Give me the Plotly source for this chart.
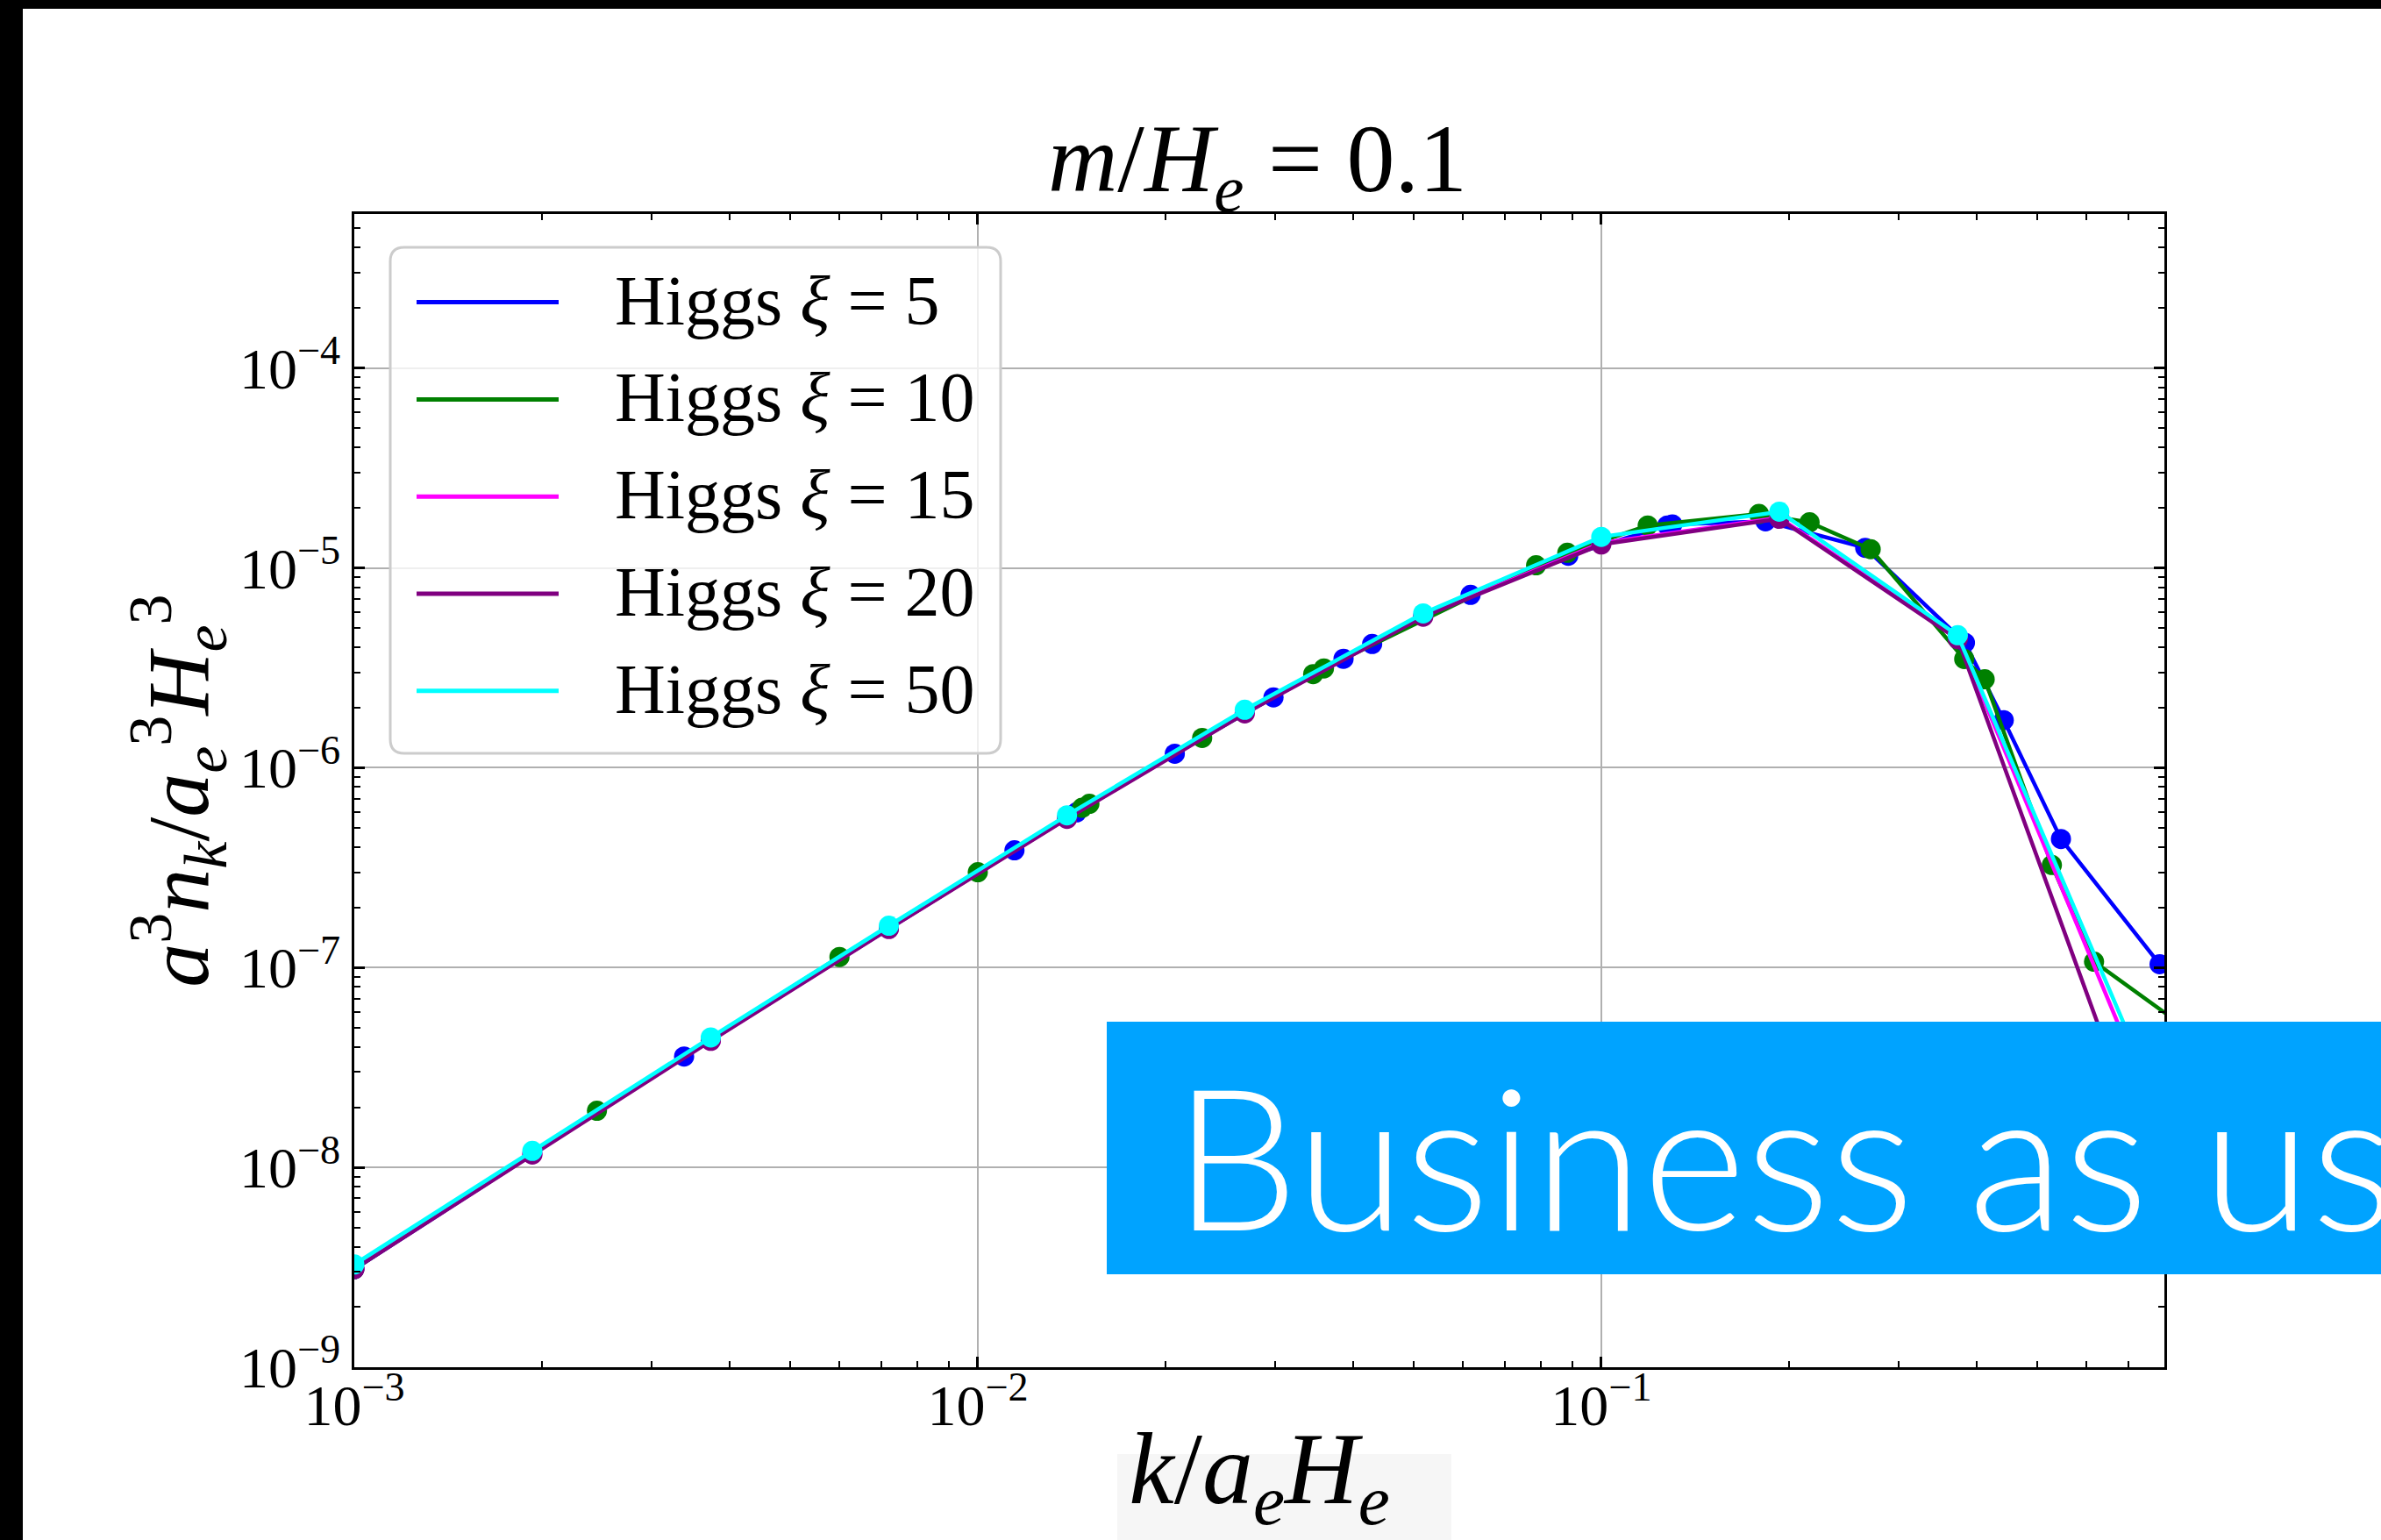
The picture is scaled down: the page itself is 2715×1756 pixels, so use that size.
import math
import plotly.graph_objects as go

# ---------------- data ----------------
series_names = ["Higgs ξ = 5", "Higgs ξ = 10", "Higgs ξ = 15", "Higgs ξ = 20", "Higgs ξ = 50"]
series_colors = ["#0000ff", "#008000", "#ff00ff", "#800080", "#00ffff"]

k_xi5 = [1.0e-3, 3.38e-3, 1.145e-2, 1.44e-2, 2.07e-2, 2.98e-2, 3.86e-2, 4.29e-2, 6.17e-2,
         8.85e-2, 0.1276, 0.130, 0.1834, 0.265, 0.383, 0.442, 0.546, 0.786]
n_xi5 = [3.1e-9, 3.59e-8, 3.86e-7, 5.98e-7, 1.175e-6, 2.25e-6, 3.51e-6, 4.16e-6, 7.33e-6,
         1.15e-5, 1.63e-5, 1.65e-5, 1.71e-5, 1.26e-5, 4.22e-6, 1.73e-6, 4.4e-7, 1.04e-7]

k_xi10 = [1.0e-3, 2.45e-3, 6.0e-3, 1.0e-2, 1.47e-2, 1.51e-2, 2.29e-2, 3.45e-2, 3.59e-2, 7.86e-2,
          8.82e-2, 0.1187, 0.179, 0.2158, 0.2704, 0.382, 0.412, 0.528, 0.617, 1.0]
n_xi10 = [3.1e-9, 1.92e-8, 1.13e-7, 3.0e-7, 6.3e-7, 6.6e-7, 1.41e-6, 2.94e-6, 3.14e-6, 1.03e-5,
          1.19e-5, 1.63e-5, 1.86e-5, 1.69e-5, 1.24e-5, 3.5e-6, 2.77e-6, 3.26e-7, 1.07e-7, 3.6e-8]

k_common = [1.0e-3, 1.93e-3, 3.73e-3, 7.2e-3, 1.39e-2, 2.68e-2, 5.18e-2, 0.1, 0.193, 0.373, 0.72, 1.39]
n_xi15 = [3.12e-9, 1.17e-8, 4.32e-8, 1.57e-7, 5.6e-7, 1.89e-6, 5.75e-6, 1.33e-5, 1.78e-5, 4.5e-6, 3.2e-8, 1.6e-10]
n_xi20 = [3.1e-9, 1.16e-8, 4.3e-8, 1.56e-7, 5.55e-7, 1.87e-6, 5.7e-6, 1.31e-5, 1.76e-5, 4.4e-6, 1.57e-8, 5e-11]
n_xi50 = [3.27e-9, 1.21e-8, 4.47e-8, 1.62e-7, 5.78e-7, 1.95e-6, 5.92e-6, 1.43e-5, 1.91e-5, 4.6e-6, 3.8e-8, 1.9e-10]

x_tickvals = [1e-3, 1e-2, 1e-1]
x_ticktext = ["10<sup>−3</sup>", "10<sup>−2</sup>", "10<sup>−1</sup>"]
y_tickvals = [1e-9, 1e-8, 1e-7, 1e-6, 1e-5, 1e-4]
y_ticktext = ["10<sup>−9</sup>", "10<sup>−8</sup>", "10<sup>−7</sup>", "10<sup>−6</sup>",
              "10<sup>−5</sup>", "10<sup>−4</sup>"]
x_limits = [1e-3, 0.8]
y_limits = [1e-9, 5.9e-4]

title_text = "<i>m</i>/<i>H</i><sub><i>e</i></sub> = 0.1"
x_title = "<i>k</i>/<i>a</i><sub><i>e</i></sub><i>H</i><sub><i>e</i></sub>"
y_title = "<i>a</i><sup>3</sup><i>n</i><sub><i>k</i></sub>/<i>a</i><sub><i>e</i></sub><sup>3</sup><i>H</i><sub><i>e</i></sub><sup>3</sup>"
banner_text = "Business as usual"

# ---------------- layout geometry (pixels of the 2715x1756 page) ----------------
W, H = 2715, 1756
L, R, T, B = 404, 2468, 244, 1559
SERIF = "Liberation Serif, DejaVu Serif, serif"


def px(x):
    return (x - L) / (R - L)


def py(y):
    return (B - y) / (B - T)


fig = go.Figure()
xs = [k_xi5, k_xi10, k_common, k_common, k_common]
ys = [n_xi5, n_xi10, n_xi15, n_xi20, n_xi50]
for name, color, kx, ny in zip(series_names, series_colors, xs, ys):
    fig.add_trace(go.Scatter(
        x=kx, y=ny, name=name, mode="lines+markers",
        line=dict(color=color, width=4.5),
        marker=dict(color=color, size=23),
        showlegend=False,
    ))

axis_common = dict(
    type="log", ticks="inside", ticklen=12, tickwidth=2.5, tickcolor="black",
    mirror="allticks", showline=True, linecolor="black", linewidth=2.5,
    showgrid=True, gridcolor="#b0b0b0", gridwidth=2, zeroline=False,
    minor=dict(dtick="D1", ticks="inside", ticklen=7, tickwidth=2, tickcolor="black", showgrid=False),
    tickfont=dict(family=SERIF, size=66, color="black"),
    automargin=False,
)

fig.update_layout(
    width=W, height=H,
    margin=dict(l=L, r=W - R, t=T, b=H - B, pad=0),
    paper_bgcolor="white", plot_bgcolor="white",
    showlegend=False,
    title=dict(text=title_text, x=px(1434), xref="paper", xanchor="center",
               y=(H - 218) / H, yref="container", yanchor="bottom",
               font=dict(family=SERIF, size=110, color="black")),
    xaxis=dict(axis_common, range=[math.log10(x_limits[0]), math.log10(x_limits[1])],
               tickmode="array", tickvals=x_tickvals, ticktext=x_ticktext, ticklabelstandoff=-16,
               title=dict(text=x_title, font=dict(family=SERIF, size=116, color="black"), standoff=16)),
    yaxis=dict(axis_common, range=[math.log10(y_limits[0]), math.log10(y_limits[1])],
               tickmode="array", tickvals=y_tickvals, ticktext=y_ticktext,
               title=dict(text=y_title, font=dict(family=SERIF, size=100, color="black"), standoff=2)),
)

shapes = []
# slide frame (black bands left and top)
shapes.append(dict(type="rect", xref="paper", yref="paper", x0=px(-5), x1=px(26), y0=py(H + 5), y1=py(-5),
                   fillcolor="black", line=dict(width=0), layer="above"))
shapes.append(dict(type="rect", xref="paper", yref="paper", x0=px(-5), x1=px(W + 5), y0=py(10), y1=py(-5),
                   fillcolor="black", line=dict(width=0), layer="above"))
# faint screenshot patch behind x label
shapes.append(dict(type="rect", xref="paper", yref="paper", x0=px(1274), x1=px(1655), y0=py(H + 5), y1=py(1658),
                   fillcolor="#f6f6f6", line=dict(width=0), layer="below"))

# legend box (rounded)
lx0, lx1, ly0, ly1 = px(445), px(1141), py(859), py(282)
rx, ry = 16 / (R - L), 16 / (B - T)
path = (f"M {lx0 + rx},{ly0} L {lx1 - rx},{ly0} Q {lx1},{ly0} {lx1},{ly0 + ry} "
        f"L {lx1},{ly1 - ry} Q {lx1},{ly1} {lx1 - rx},{ly1} L {lx0 + rx},{ly1} "
        f"Q {lx0},{ly1} {lx0},{ly1 - ry} L {lx0},{ly0 + ry} Q {lx0},{ly0} {lx0 + rx},{ly0} Z")
shapes.append(dict(type="path", xref="paper", yref="paper", path=path,
                   fillcolor="rgba(255,255,255,0.8)", line=dict(color="#cccccc", width=3), layer="above"))
row_y = [344.6, 455.4, 566.2, 677.0, 787.8]
annotations = []
for name, color, yy in zip(series_names, series_colors, row_y):
    shapes.append(dict(type="line", xref="paper", yref="paper", x0=px(475), x1=px(637), y0=py(yy), y1=py(yy),
                       line=dict(color=color, width=5), layer="above"))
    label = name.replace("ξ", "<i>ξ</i>")
    annotations.append(dict(text=label, xref="paper", yref="paper", x=px(699), y=py(yy - 2),
                            xanchor="left", yanchor="middle", showarrow=False,
                            font=dict(family=SERIF, size=80, color="black")))

# blue banner
shapes.append(dict(type="rect", xref="paper", yref="paper", x0=px(1262), x1=px(W + 10), y0=py(1453), y1=py(1165),
                   fillcolor="#00a3ff", line=dict(width=0), layer="above"))
annotations.append(dict(text=banner_text, xref="paper", yref="paper", x=px(1336), y=py(1315),
                        xanchor="left", yanchor="middle", showarrow=False,
                        font=dict(family="Lato, Liberation Sans, sans-serif", size=226, color="white", weight=300)))

fig.update_layout(shapes=shapes, annotations=annotations)
fig.write_html("out.html",
               config={"displayModeBar": False},
               post_script="document.body.style.margin='0';document.body.style.padding='0';"
                           "document.documentElement.style.overflow='hidden';document.body.style.overflow='hidden';")
